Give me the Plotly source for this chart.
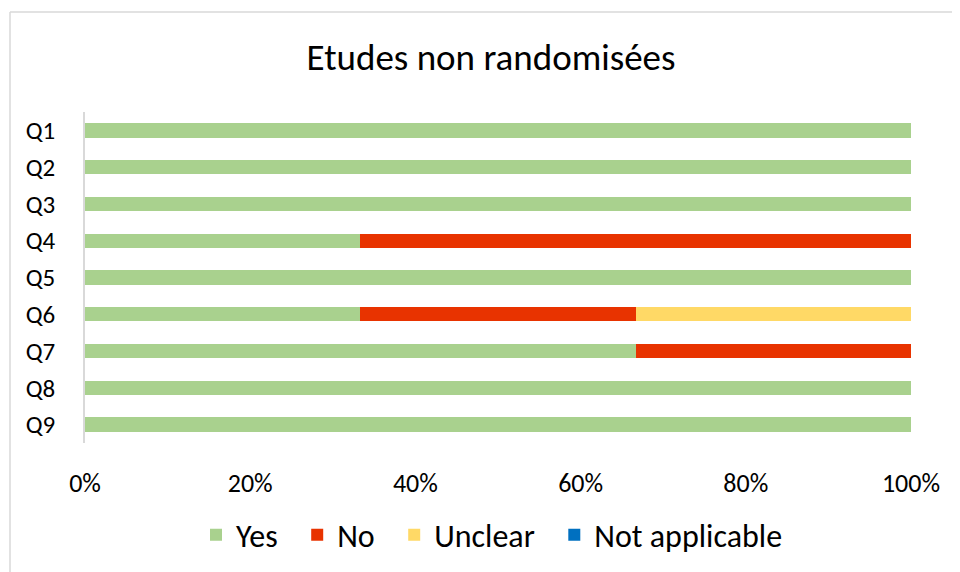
import plotly.graph_objects as go

questions = ["Q1", "Q2", "Q3", "Q4", "Q5", "Q6", "Q7", "Q8", "Q9"]
yes_pct = [100, 100, 100, 33.33, 100, 33.33, 66.67, 100, 100]
no_pct = [0, 0, 0, 66.67, 0, 33.33, 33.33, 0, 0]
unclear_pct = [0, 0, 0, 0, 0, 33.34, 0, 0, 0]
na_pct = [0, 0, 0, 0, 0, 0, 0, 0, 0]
x_ticks = [0, 20, 40, 60, 80, 100]
x_tick_labels = ["0%", "20%", "40%", "60%", "80%", "100%"]

NB = "\u00a0"
series = [
    ("Yes", "Yes" + NB * 2, yes_pct, "#A9D18E"),
    ("No", "No" + NB * 2, no_pct, "#E83300"),
    ("Unclear", "Unclear" + NB * 2, unclear_pct, "#FFD966"),
    ("Not applicable", "Not applicable", na_pct, "#0070C0"),
]

fig = go.Figure()
for key, label, vals, color in series:
    fig.add_trace(go.Bar(
        y=questions, x=vals, name=label, orientation="h",
        marker=dict(color=color, line=dict(width=0)),
        width=0.39,
    ))

# page body has an 8px margin, so the figure is sized/positioned accordingly
W, H = 952, 564
ml, mr, mt, mb = 77, 49, 104, 129
pw, ph = W - ml - mr, H - mt - mb

font_family = "Carlito, Calibri, 'Open Sans', sans-serif"

fig.update_layout(
    width=W, height=H,
    barmode="stack",
    bargap=0.61,
    paper_bgcolor="white", plot_bgcolor="white",
    margin=dict(l=ml, r=mr, t=mt, b=mb, autoexpand=False),
    font=dict(family=font_family, color="#000000"),
    title=dict(text="Etudes non randomisées", x=483 / W, xref="container",
               xanchor="center", y=1 - 49 / H, yref="container", yanchor="middle",
               font=dict(size=37, family=font_family, color="#000000")),
    xaxis=dict(range=[0, 100], tickvals=x_ticks, ticktext=x_tick_labels,
               showgrid=False, zeroline=False, showline=False, automargin=False,
               ticks="", ticklabelstandoff=22,
               tickfont=dict(size=26, family=font_family)),
    yaxis=dict(categoryorder="array", categoryarray=questions,
               autorange="reversed", showgrid=False, zeroline=False, automargin=False,
               showline=True, linecolor="#D9D9D9", linewidth=1.5,
               ticks="", ticklabelstandoff=23,
               tickfont=dict(size=25, family=font_family)),
    legend=dict(orientation="h", x=(484 - ml) / pw, xanchor="center",
                y=-(527 - (H - mb)) / ph, yanchor="middle",
                font=dict(size=32, family=font_family),
                itemwidth=30, traceorder="normal"),
    showlegend=True,
)

# outer chart border (light gray), extending past the right and bottom edges
bx0 = (2 - ml) / pw
by1 = 1 + (mt - 4) / ph
fig.add_shape(type="line", xref="paper", yref="paper", x0=bx0, x1=(W + 5 - ml) / pw,
              y0=by1, y1=by1, line=dict(color="#D9D9D9", width=1.5))
fig.add_shape(type="line", xref="paper", yref="paper", x0=bx0, x1=bx0,
              y0=by1, y1=-(mb + 5) / ph, line=dict(color="#D9D9D9", width=1.5))

fig.write_html("out.html")
